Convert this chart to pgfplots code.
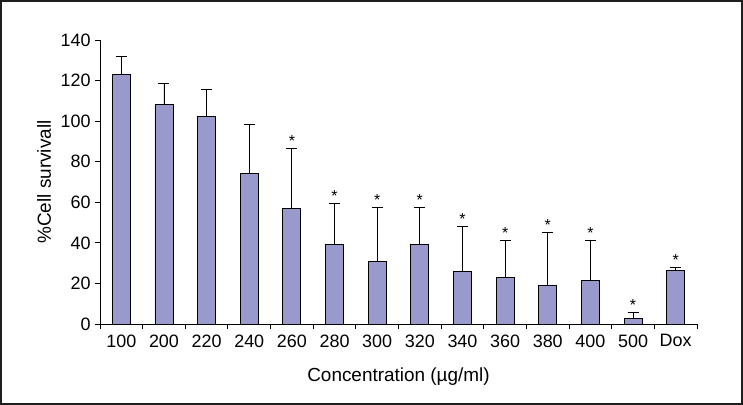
\documentclass[border=0pt]{standalone}
\usepackage{pgfplots}
\pgfplotsset{compat=1.18}
\usepackage{fontspec}
\setmainfont{Liberation Sans}
\definecolor{barfill}{RGB}{153,153,204}
\definecolor{framecol}{RGB}{30,30,30}
\begin{document}
\begin{tikzpicture}
\useasboundingbox (-100bp,-81bp) rectangle (643bp,324bp);
\draw[line width=1.6bp, framecol] (-99.2bp,-80.2bp) rectangle (642.2bp,323.2bp);
\begin{axis}[
  at={(0,0)}, anchor=south west,
  scale only axis,
  width=597bp, height=284bp,
  xmin=-0.5, xmax=13.5,
  ymin=0, ymax=140,
  axis x line*=bottom, axis y line*=left,
  axis line style={line width=0.9bp, black},
  xtick={0,...,13},
  xticklabels={100,200,220,240,260,280,300,320,340,360,380,400,500,Dox},
  minor xtick={-0.5,0.5,...,13.5},
  ytick={0,20,...,140},
  tick align=outside,
  major tick length=5bp,
  minor tick length=5bp,
  x tick style={draw=none},
  minor x tick style={draw=black, line width=0.9bp},
  y tick style={line width=0.9bp, black},
  /pgf/number format/assume math mode=true,
  xticklabel style={font=\fontsize{18}{21}\selectfont, yshift=-2bp},
  yticklabel style={font=\fontsize{18}{21}\selectfont, xshift=-1bp},
  xlabel={Concentration (µg/ml)},
  ylabel={\%Cell survivall},
  xlabel style={font=\fontsize{19}{21}\selectfont, at={(axis description cs:0.5,-0.1866)}, anchor=center},
  ylabel style={font=\fontsize{19}{21}\selectfont, at={(axis description cs:-0.0938,0.5)}, anchor=center},
  clip=false,
]
\addplot[ybar, bar width=18bp, fill=barfill, draw=black, line width=0.9bp,
  error bars/.cd, y dir=plus, y explicit,
  error bar style={line width=0.9bp, black},
  error mark options={rotate=90, mark size=5.5bp, line width=0.9bp, black}]
coordinates {
 (0,123) +- (0,8.8)
 (1,108) +- (0,10.7)
 (2,102.5) +- (0,13.2)
 (3,74.4) +- (0,24.1)
 (4,57.1) +- (0,29.5)
 (5,39.4) +- (0,20.2)
 (6,31) +- (0,26.5)
 (7,39.4) +- (0,18.1)
 (8,26) +- (0,22.1)
 (9,23) +- (0,18.3)
 (10,19) +- (0,26.1)
 (11,21.5) +- (0,19.8)
 (12,2.8) +- (0,2.8)
 (13,26.6) +- (0,1.4)
};
\addplot[draw=none, mark=none, nodes near coords={*},
  every node near coord/.append style={anchor=south, inner sep=1.5bp, font=\fontsize{16}{18}\selectfont}]
coordinates {
 (4,86.6) (5,59.6) (6,57.5) (7,57.5) (8,48.1) (9,41.3) (10,45.1) (11,41.3) (12,5.6) (13,28)
};
\end{axis}
\end{tikzpicture}
\end{document}
